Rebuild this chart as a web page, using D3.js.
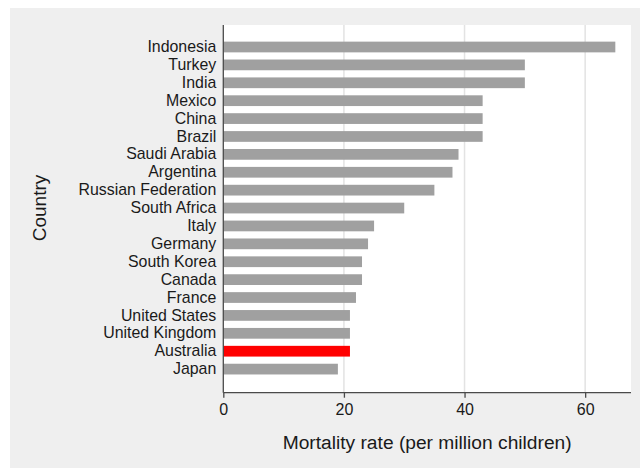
<!DOCTYPE html>
<html>
<head>
<meta charset="utf-8">
<script src="https://cdn.jsdelivr.net/npm/d3@7"></script>
<style>
  html, body { margin: 0; padding: 0; background: #ffffff; }
  svg { display: block; }
  text { font-family: "Liberation Sans", Arial, sans-serif; fill: #1a1a1a; }
</style>
</head>
<body>
<svg id="chart" width="640" height="468"></svg>
<script>
// Child mortality rate by country (per million children)
const countries = ["Indonesia", "Turkey", "India", "Mexico", "China", "Brazil",
  "Saudi Arabia", "Argentina", "Russian Federation", "South Africa", "Italy",
  "Germany", "South Korea", "Canada", "France", "United States",
  "United Kingdom", "Australia", "Japan"];
const rates = [65, 50, 50, 43, 43, 43, 39, 38, 35, 30, 25, 24, 23, 23, 22, 21, 21, 21, 19];
const highlighted = ["Australia"];
const xTicks = [0, 20, 40, 60];
const xTitle = "Mortality rate (per million children)";
const yTitle = "Country";

const data = countries.map((c, i) => ({ country: c, value: rates[i] }));

const svg = d3.select("#chart");

// Outer grey panel
svg.append("rect")
  .attr("x", 10).attr("y", 8)
  .attr("width", 630).attr("height", 460)
  .attr("fill", "#efefef");

const plot = { left: 223.3, right: 631, top: 25, bottom: 392.7 };

// White plot region
svg.append("rect")
  .attr("x", plot.left).attr("y", plot.top)
  .attr("width", plot.right - plot.left).attr("height", plot.bottom - plot.top)
  .attr("fill", "#ffffff");

const x = d3.scaleLinear().domain([0, 67.6]).range([plot.left, plot.right]);
const y = d3.scaleBand().domain(countries)
  .range([38.05, 378.05]).paddingInner(0.4).paddingOuter(0.2);

// Vertical gridlines
svg.append("g")
  .selectAll("line")
  .data(xTicks.filter(t => t > 0))
  .join("line")
  .attr("x1", d => x(d)).attr("x2", d => x(d))
  .attr("y1", plot.top).attr("y2", plot.bottom)
  .attr("stroke", "#e3e3e3")
  .attr("stroke-width", 1.5);

// Bars
svg.append("g")
  .selectAll("rect")
  .data(data)
  .join("rect")
  .attr("x", x(0))
  .attr("y", d => y(d.country))
  .attr("width", d => x(d.value) - x(0))
  .attr("height", y.bandwidth())
  .attr("fill", d => highlighted.includes(d.country) ? "#ff0000" : "#a0a0a0");

// Bottom axis
const xAxis = svg.append("g")
  .attr("transform", `translate(0,${plot.bottom})`)
  .call(d3.axisBottom(x).tickValues(xTicks).tickSize(5).tickPadding(6).tickSizeOuter(0));
xAxis.select(".domain").attr("stroke", "#4a4a4a").attr("stroke-width", 1.3)
  .attr("d", `M${plot.left},0H${plot.right}`);
xAxis.selectAll(".tick line").attr("stroke", "#4a4a4a").attr("stroke-width", 1.3);
xAxis.selectAll(".tick text")
  .attr("font-size", 16)
  .attr("font-family", "Liberation Sans, Arial, sans-serif")
  .attr("fill", "#1a1a1a");

// Left axis
const yAxis = svg.append("g")
  .attr("transform", `translate(${plot.left},0)`)
  .call(d3.axisLeft(y).tickSize(0).tickPadding(7));
yAxis.select(".domain").attr("stroke", "#4a4a4a").attr("stroke-width", 1.3)
  .attr("d", `M0,${plot.top}V${plot.bottom}`);
yAxis.selectAll(".tick text")
  .attr("font-size", 15.9)
  .attr("font-family", "Liberation Sans, Arial, sans-serif")
  .attr("fill", "#1a1a1a");

// Axis titles
svg.append("text")
  .attr("x", (plot.left + plot.right) / 2)
  .attr("y", 449)
  .attr("text-anchor", "middle")
  .attr("font-size", 19.2)
  .text(xTitle);

svg.append("text")
  .attr("transform", `translate(46,208) rotate(-90)`)
  .attr("text-anchor", "middle")
  .attr("font-size", 19)
  .text(yTitle);
</script>
</body>
</html>
